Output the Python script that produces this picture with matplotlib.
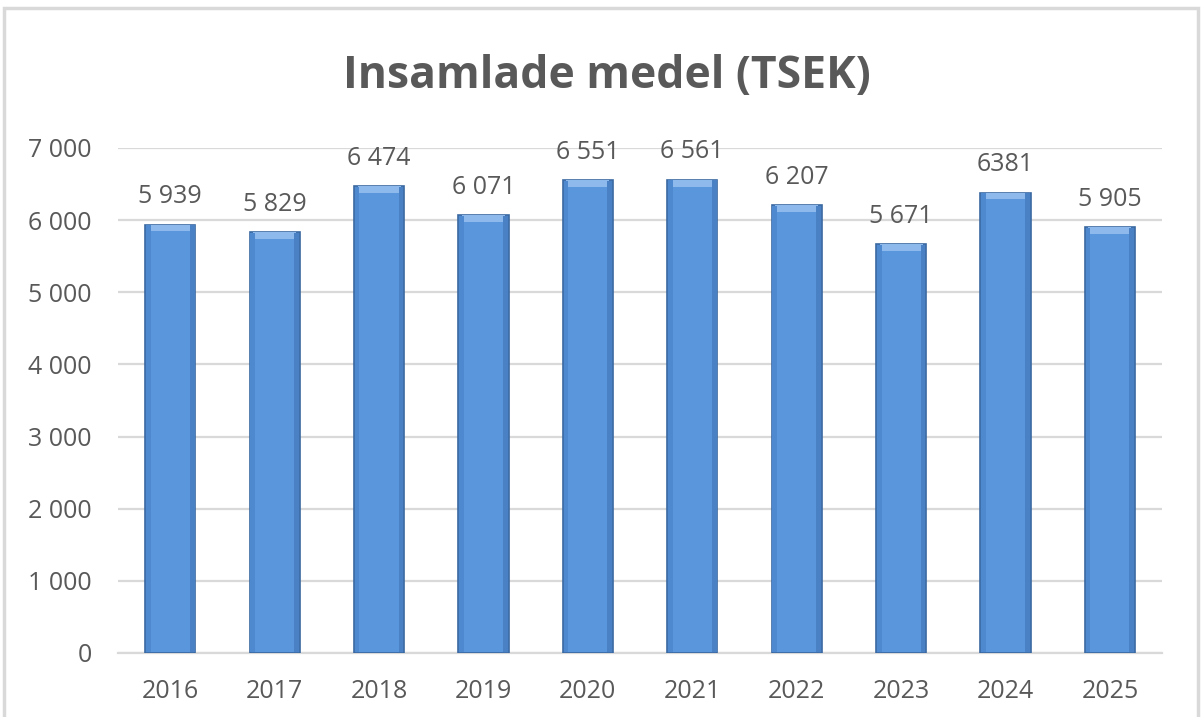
import matplotlib
matplotlib.use("Agg")
import matplotlib.pyplot as plt
from matplotlib.patches import Rectangle
from matplotlib.ticker import FixedLocator

years = ["2016", "2017", "2018", "2019", "2020", "2021", "2022", "2023", "2024", "2025"]
values = [5939, 5829, 6474, 6071, 6551, 6561, 6207, 5671, 6381, 5905]
value_labels = ["5 939", "5 829", "6 474", "6 071", "6 551", "6 561", "6 207", "5 671", "6381", "5 905"]
yticks = [0, 1000, 2000, 3000, 4000, 5000, 6000, 7000]
ytick_labels = ["0", "1 000", "2 000", "3 000", "4 000", "5 000", "6 000", "7 000"]
title = "Insamlade medel (TSEK)"

plt.rcParams['font.family'] = ['Open Sans', 'DejaVu Sans']
text_color = "#595959"

fig = plt.figure(figsize=(12.02, 7.17), dpi=100)
fig.patch.set_facecolor("white")
# outer chart border
fig.add_artist(Rectangle((0.0035, -0.01), 0.9935, 1.0035 - 0.005, transform=fig.transFigure,
                         fill=False, edgecolor="#D9D9D9", linewidth=2.5))

ax = fig.add_axes([0.0982, 0.0893, 0.8686, 0.7043])
x = list(range(len(years)))
bw = 0.48
ax.bar(x, values, width=bw, color="#5A96DC", edgecolor="#3A68A0", linewidth=1.2, zorder=3)
# bevel highlight on top of each bar
cap = 95
ax.bar(x, [cap] * len(values), bottom=[v - cap for v in values], width=bw * 0.86,
       color="#8DB9EC", linewidth=0, zorder=4)
# darker side shading
for xi, v in zip(x, values):
    ax.bar(xi + bw / 2 - 0.03, v - 20, width=0.045, bottom=10, color="#4A80C4", linewidth=0, zorder=4)
    ax.bar(xi - bw / 2 + 0.03, v - 20, width=0.045, bottom=10, color="#4E88CE", linewidth=0, zorder=4)

for xi, v, lab in zip(x, values, value_labels):
    ax.annotate(lab, (xi, v), xytext=(0, 11), textcoords="offset points",
                ha="center", va="bottom", fontsize=18, color=text_color)

ax.set_xlim(-0.5, len(years) - 0.5)
ax.set_ylim(0, 7000)
ax.yaxis.set_major_locator(FixedLocator(yticks))
ax.set_yticklabels(ytick_labels)
ax.set_xticks(x)
ax.set_xticklabels(years)
ax.tick_params(axis="both", length=0, labelsize=18, labelcolor=text_color)
ax.tick_params(axis="x", pad=19)
ax.tick_params(axis="y", pad=19)
ax.grid(axis="y", color="#D9D9D9", linewidth=1.6, zorder=0)
for s in ["top", "right", "left"]:
    ax.spines[s].set_visible(False)
ax.spines["bottom"].set_color("#D9D9D9")
ax.spines["bottom"].set_linewidth(1.6)

fig.text(0.505, 0.893, title, ha="center", va="center", fontsize=32, fontweight="bold",
         color=text_color, fontstretch="condensed")

fig.savefig("out.png", dpi=100, facecolor="white")
